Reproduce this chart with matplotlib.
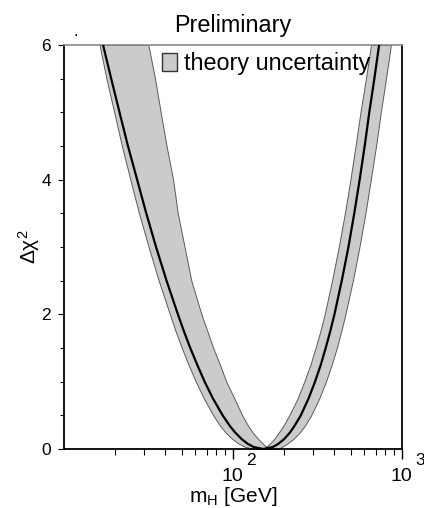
import matplotlib
matplotlib.use("Agg")
import matplotlib.pyplot as plt
from matplotlib.patches import Patch
import numpy as np

plt.rcParams['font.family'] = ['Liberation Sans', 'DejaVu Sans']
plt.rcParams['mathtext.fontset'] = 'custom'
plt.rcParams['mathtext.rm'] = 'Liberation Sans'
plt.rcParams['mathtext.it'] = 'Liberation Sans:italic'

# ---- data ----
dchi2_levels = [6, 5.5, 5, 4.5, 4, 3.5, 3, 2.5, 2, 1.75, 1.5, 1.25, 1,
                0.75, 0.5, 0.35, 0.25, 0.15, 0.08, 0.03, 0]

# left branch (low m_H side), m_H in GeV at each Δχ² level
left_line = [17.1, 19.1, 21.4, 24.0, 27.2, 30.8, 35.2, 40.6, 47.4, 51.4, 56.1,
             61.7, 68.2, 76.4, 87.2, 95.7, 103.0, 112.7, 122.2, 132.9, 151.4]
left_outer = [16.3, 17.9, 19.9, 22.1, 24.8, 27.9, 31.8, 36.5, 42.5, 45.9, 50.0,
              54.8, 60.5, 67.5, 76.7, 83.9, 90.4, 99.3, 108.4, 119.0, 135.8]
left_inner = [31.7, 34.7, 37.5, 40.6, 44.4, 47.3, 51.9, 56.9, 65.3, 70.8, 76.7,
              84.1, 91.6, 102.3, 113.8, 123.0, 130.9, 141.3, 150.7, 158.5, 162.2]

# right branch (high m_H side)
right_line = [735, 689, 643, 604, 564, 524, 484, 442, 400, 378, 355,
              332, 307, 281, 253, 233, 219, 202, 187, 173, 151.4]
right_inner = [658, 614, 570, 533, 497, 461, 424, 387, 350, 330, 309,
               288, 265, 242, 216, 200, 188, 176, 166, 157, 155]
right_outer = [863, 807, 752, 705, 656, 610, 562, 514, 464, 439, 413,
               385, 356, 325, 291, 268, 250, 229, 210, 195, 185]

y_ticks = [0, 2, 4, 6]
x_major = [100, 1000]
x_major_labels = ['10', '10']
x_exponents = ['2', '3']

title_text = 'Preliminary'
legend_label = 'theory uncertainty'

# ---- figure ----
W, H = 424, 508
fig = plt.figure(figsize=(W / 100, H / 100), dpi=100)
ax = fig.add_axes([63.7 / W, 1 - 449 / H, (401.7 - 63.7) / W, (449 - 45) / H])

band_face = '#cbcbcb'
band_edge = '#5a5a5a'

ax.fill_betweenx(dchi2_levels, left_outer, left_inner, facecolor=band_face,
                 edgecolor=band_edge, linewidth=0.7, zorder=2)
ax.fill_betweenx(dchi2_levels, right_inner, right_outer, facecolor=band_face,
                 edgecolor=band_edge, linewidth=0.7, zorder=2)

line_x = list(left_line) + list(right_line[::-1])
line_y = list(dchi2_levels) + list(dchi2_levels[::-1])
ax.plot(line_x, line_y, color='black', linewidth=1.6, zorder=3,
        solid_joinstyle='round')

ax.set_xscale('log')
ax.set_xlim(10, 1000)
ax.set_ylim(0, 6)

# y axis ticks
ax.set_yticks(y_ticks)
ax.set_yticks(np.arange(0, 6.01, 0.5), minor=True)
ax.tick_params(axis='y', which='major', direction='out', length=4, width=0.8,
               labelsize=12.5, pad=5)
ax.tick_params(axis='y', which='minor', direction='out', length=3, width=0.8)
ax.tick_params(axis='y', right=False, which='both')

# x axis ticks
ax.set_xticks(x_major)
ax.set_xticklabels(x_major_labels)
minor = [v * d for d in (10, 100) for v in range(2, 10)]
ax.set_xticks(minor, minor=True)
ax.xaxis.set_minor_formatter(matplotlib.ticker.NullFormatter())
ax.tick_params(axis='x', which='major', direction='out', length=7, width=1.0,
               labelsize=14, pad=7)
ax.tick_params(axis='x', which='minor', direction='out', length=4, width=0.8)
ax.tick_params(axis='x', top=False, which='both')

for xv, ex in zip(x_major, x_exponents):
    ax.annotate(ex, xy=(xv, 0), xycoords=('data', 'axes fraction'),
                xytext=(13, -3), textcoords='offset points',
                ha='center', va='top', fontsize=12.5, annotation_clip=False)

for s in ('left', 'bottom', 'right'):
    ax.spines[s].set_linewidth(1.3)
    ax.spines[s].set_color('black')
ax.spines['top'].set_linewidth(1.2)
ax.spines['top'].set_color('#8a8a8a')

ax.set_xlabel(r'm$_{\mathrm{H}}$ [GeV]', fontsize=15, labelpad=0)
ax.set_ylabel(r'Δχ$^{2}$', fontsize=15, labelpad=0)
ax.set_title(title_text, fontsize=16.8, pad=9.6)

handle = Patch(facecolor=band_face, edgecolor='#333333', linewidth=1.0,
               label=legend_label)
ax.legend(handles=[handle], loc='upper left', bbox_to_anchor=(0.29, 0.982),
          frameon=False, fontsize=16.8, handlelength=0.64, handleheight=0.77,
          handletextpad=0.31, borderpad=0, borderaxespad=0)

fig.text(76 / W, 1 - 36 / H, '.', fontsize=12, ha='center', va='baseline')

fig.savefig('out.png', dpi=100)
